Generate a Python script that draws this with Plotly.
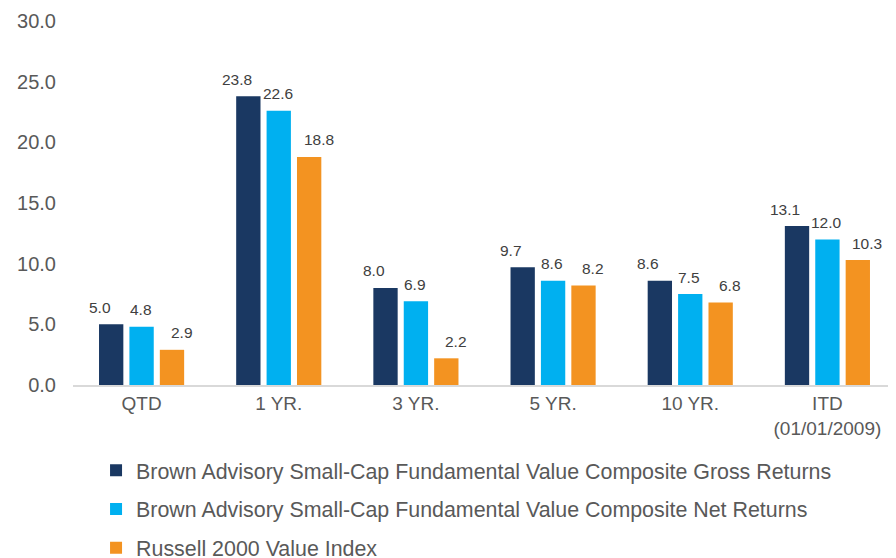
import plotly.graph_objects as go

categories = ["QTD", "1 YR.", "3 YR.", "5 YR.", "10 YR.", "ITD<br>(01/01/2009)"]
gross = [5.0, 23.8, 8.0, 9.7, 8.6, 13.1]
net = [4.8, 22.6, 6.9, 8.6, 7.5, 12.0]
index_vals = [2.9, 18.8, 2.2, 8.2, 6.8, 10.3]
series_names = [
    "Brown Advisory Small-Cap Fundamental Value Composite Gross Returns",
    "Brown Advisory Small-Cap Fundamental Value Composite Net Returns",
    "Russell 2000 Value Index",
]
y_ticks = [0, 5, 10, 15, 20, 25, 30]

colors = ["#1a3862", "#00b0f0", "#f39321"]
label_xshift = [-42, -1, 40]
series = [gross, net, index_vals]
FONT = "Liberation Sans, Arial, sans-serif"

fig = go.Figure()
for i, (name, vals) in enumerate(zip(series_names, series)):
    fig.add_trace(go.Bar(
        x=categories, y=vals, name=name,
        marker=dict(color=colors[i], line=dict(width=0)),
        legendgroup=f"g{i}",
    ))
    for c, v in zip(categories, vals):
        fig.add_annotation(
            x=c, y=v, text=f"{v:.1f}", showarrow=False,
            xshift=label_xshift[i], yshift=17, yanchor="middle",
            font=dict(family=FONT, size=15.5, color="#404040"),
        )

fig.update_layout(
    width=888, height=550,
    margin=dict(l=65, r=0, t=13, b=173, autoexpand=False),
    paper_bgcolor="white", plot_bgcolor="white",
    barmode="group", bargap=0.335, bargroupgap=0.2,
    font=dict(family=FONT, color="#595959"),
    showlegend=True,
    legend=dict(
        orientation="v", x=0.028, xanchor="left", y=-0.178, yanchor="top",
        font=dict(family=FONT, size=21.4, color="#595959"), tracegroupgap=8,
        itemclick=False, itemdoubleclick=False,
    ),
    xaxis=dict(
        showline=True, linecolor="#d9d9d9", linewidth=2,
        ticks="", tickfont=dict(size=19, color="#595959"),
        showgrid=False, fixedrange=True,
    ),
    yaxis=dict(
        range=[0, 30], tickvals=y_ticks, tickformat=".1f",
        showgrid=False, zeroline=False, showline=False,
        tickfont=dict(size=20, color="#595959"), ticks="",
        ticklabelstandoff=16, fixedrange=True,
    ),
)

fig.write_html("out.html")
